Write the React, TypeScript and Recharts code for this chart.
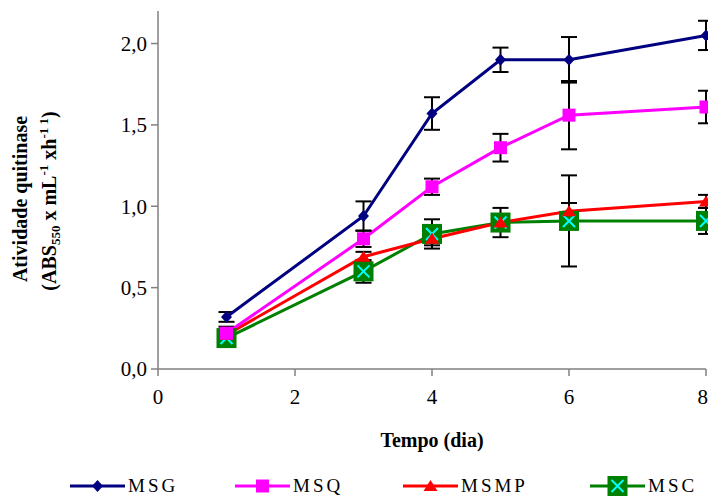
import React from 'react';
import { LineChart, Line, XAxis, YAxis, ErrorBar, Legend } from 'recharts';

const days = [1, 3, 4, 5, 6, 8];
const msg = [0.32, 0.94, 1.57, 1.9, 1.9, 2.05];
const msgErr = [0.03, 0.09, 0.1, 0.075, 0.14, 0.09];
const msq = [0.22, 0.8, 1.12, 1.36, 1.56, 1.61];
const msqErr = [0.04, 0.05, 0.05, 0.085, 0.21, 0.1];
const msmp = [0.21, 0.69, 0.8, 0.9, 0.97, 1.03];
const msmpErr = [0.03, 0.03, 0.04, 0.04, 0.05, 0.04];
const msc = [0.19, 0.6, 0.83, 0.9, 0.91, 0.91];
const mscErr = [0.02, 0.07, 0.09, 0.09, 0.28, 0.08];
const xTicks = [0, 2, 4, 6, 8];
const yTicks = [0, 0.5, 1, 1.5, 2];
const seriesNames = ['MSG', 'MSQ', 'MSMP', 'MSC'];

const data = days.map((d, i) => ({
  day: d,
  msg: msg[i], msgErr: msgErr[i],
  msq: msq[i], msqErr: msqErr[i],
  msmp: msmp[i], msmpErr: msmpErr[i],
  msc: msc[i], mscErr: mscErr[i],
}));

const FONT = "'Liberation Serif', 'Times New Roman', Tinos, 'DejaVu Serif', serif";

const Diamond = (props: any) => {
  const { cx, cy } = props;
  if (cx == null || cy == null) return null;
  return <path d={`M${cx},${cy - 6} L${cx + 5.5},${cy} L${cx},${cy + 6} L${cx - 5.5},${cy} Z`} fill="#000080" />;
};
const Square = (props: any) => {
  const { cx, cy } = props;
  if (cx == null || cy == null) return null;
  return <rect x={cx - 6.5} y={cy - 6.5} width={13} height={13} fill="#FF00FF" />;
};
const Triangle = (props: any) => {
  const { cx, cy } = props;
  if (cx == null || cy == null) return null;
  return <path d={`M${cx},${cy - 6} L${cx + 7},${cy + 5} L${cx - 7},${cy + 5} Z`} fill="#FF0000" />;
};
const XSquare = (props: any) => {
  const { cx, cy } = props;
  if (cx == null || cy == null) return null;
  return (
    <g>
      <rect x={cx - 10} y={cy - 10} width={20} height={20} fill="#008000" />
      <path d={`M${cx - 6},${cy - 6} L${cx + 6},${cy + 6} M${cx + 6},${cy - 6} L${cx - 6},${cy + 6}`} stroke="#00FFFF" strokeWidth={2} />
    </g>
  );
};

const legendItems = [
  { name: seriesNames[0], color: '#000080', Marker: Diamond, x: 70 },
  { name: seriesNames[1], color: '#FF00FF', Marker: Square, x: 235 },
  { name: seriesNames[2], color: '#FF0000', Marker: Triangle, x: 403 },
  { name: seriesNames[3], color: '#008000', Marker: XSquare, x: 590 },
];

const LegendContent = () => (
  <svg width={708} height={29} style={{ display: 'block' }}>
    {legendItems.map((it) => (
      <g key={it.name}>
        <line x1={it.x} y1={19} x2={it.x + 55} y2={19} stroke={it.color} strokeWidth={3} />
        <it.Marker cx={it.x + 27.5} cy={19} />
        <text x={it.x + 58} y={25} style={{ fontFamily: FONT }} fontSize={19} letterSpacing={3} fill="#000">{it.name}</text>
      </g>
    ))}
  </svg>
);

const YLabel = () => (
  <g style={{ fontFamily: FONT }}>
    <text transform="translate(27,199) rotate(-90)" textAnchor="middle" fontSize={20} fontWeight="bold" fill="#000">
      Atividade quitinase
    </text>
    <text transform="translate(56,201) rotate(-90)" textAnchor="middle" fontSize={20} fontWeight="bold" fill="#000">
      (ABS<tspan fontSize={13} dy={4}>550</tspan><tspan dy={-4}> x mL</tspan><tspan fontSize={13} dy={-8}>-1</tspan><tspan dy={8}> xh</tspan><tspan fontSize={13} dy={-8}>-1 1</tspan><tspan dy={8}>)</tspan>
    </text>
  </g>
);

const XLabel = () => (
  <text x={432} y={447} textAnchor="middle" style={{ fontFamily: FONT }} fontSize={20} fontWeight="bold" fill="#000">
    Tempo (dia)
  </text>
);

export default function App() {
  return (
    <div style={{ width: 708, height: 496, fontFamily: FONT }}>
      <style>{'html,body{margin:0;padding:0;overflow:hidden;}'}</style>
      <LineChart width={708} height={496} data={data} margin={{ top: 11, right: 2, left: 0, bottom: 0 }} style={{ fontFamily: FONT }}>
        <XAxis
          dataKey="day"
          type="number"
          domain={[0, 8]}
          ticks={xTicks}
          height={127}
          stroke="#808080"
          strokeWidth={1.5}
          tickSize={7}
          tick={{ fill: '#000', fontSize: 21, style: { fontFamily: FONT } }}
          tickMargin={13}
          label={<XLabel />}
        />
        <YAxis
          type="number"
          domain={[0, 2.2]}
          ticks={yTicks}
          width={158}
          stroke="#808080"
          strokeWidth={1.5}
          tickSize={7}
          tickFormatter={(v: number) => v.toFixed(1).replace('.', ',')}
          tick={{ fill: '#000', fontSize: 21, style: { fontFamily: FONT } }}
          tickMargin={4}
          label={<YLabel />}
        />
        <Legend
          layout="horizontal"
          verticalAlign="middle"
          align="center"
          content={<LegendContent />}
          wrapperStyle={{ position: 'absolute', top: 467, left: 0, width: 708 }}
        />
        <Line dataKey="msc" stroke="#008000" strokeWidth={3} dot={<XSquare />} isAnimationActive={false}>
          <ErrorBar dataKey="mscErr" width={8} stroke="#000" strokeWidth={2} direction="y" />
        </Line>
        <Line dataKey="msmp" stroke="#FF0000" strokeWidth={3} dot={<Triangle />} isAnimationActive={false}>
          <ErrorBar dataKey="msmpErr" width={8} stroke="#000" strokeWidth={2} direction="y" />
        </Line>
        <Line dataKey="msq" stroke="#FF00FF" strokeWidth={3} dot={<Square />} isAnimationActive={false}>
          <ErrorBar dataKey="msqErr" width={8} stroke="#000" strokeWidth={2} direction="y" />
        </Line>
        <Line dataKey="msg" stroke="#000080" strokeWidth={3} dot={<Diamond />} isAnimationActive={false}>
          <ErrorBar dataKey="msgErr" width={8} stroke="#000" strokeWidth={2} direction="y" />
        </Line>
      </LineChart>
    </div>
  );
}
